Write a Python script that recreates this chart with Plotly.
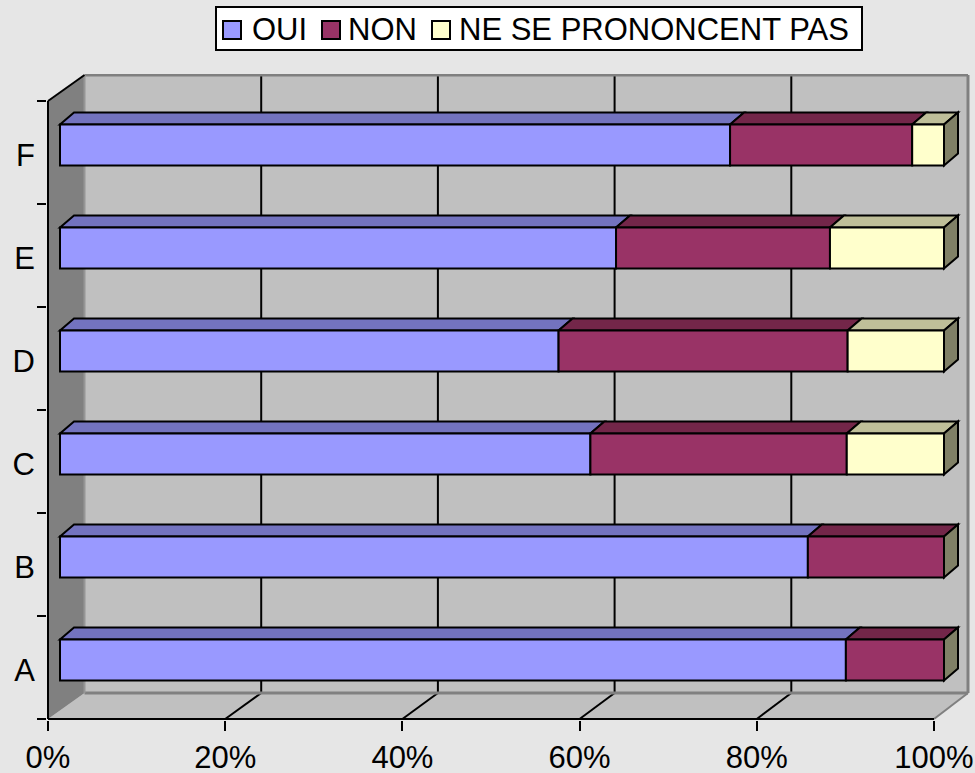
import plotly.graph_objects as go

# ---- data ----
categories = ["A", "B", "C", "D", "E", "F"]
oui = [88.9, 84.6, 60.0, 56.4, 62.9, 75.8]
non = [11.1, 15.4, 29.0, 32.7, 24.2, 20.6]
nspp = [0.0, 0.0, 11.0, 10.9, 12.9, 3.6]
series_names = ["OUI", "NON", "NE SE PRONONCENT PAS"]
x_ticks = [0, 20, 40, 60, 80, 100]
x_tick_labels = ["0%", "20%", "40%", "60%", "80%", "100%"]

# ---- styles and geometry ----
front_colors = ["#9999FF", "#993366", "#FFFFCC"]
top_colors = ["#7373BF", "#732649", "#BFBF99"]
side_color = "#808066"
page_color = "#E6E6E6"
wall_color = "#C0C0C0"
side_wall_color = "#808080"
edge_color = "#808080"
font_family = "Liberation Sans, Arial, sans-serif"

W, H = 975, 773
PX_X0, PX_X100 = 48.0, 934.0     # front plane, 0% and 100%
PX_YB, PX_YT = 719.0, 101.0      # front plane, bottom and top
PLOT_L, PLOT_R, PLOT_T, PLOT_B = 47, 970, 74, 720
PX_PER_PCT = (PX_X100 - PX_X0) / 100
PX_PER_CAT = (PX_YB - PX_YT) / len(categories)

# legend box layout, in page pixels
LEG_BOX = (216, 7, 862, 50)
LEG_SWATCH_X = [223, 322, 432]
LEG_TEXT_X = [250, 346, 457]
LEG_SWATCH_SIZE = 18
LEG_CY = 29
LEG_FONT = 31

def dxp(px):
    return px / PX_PER_PCT

def dyp(px):
    return px / PX_PER_CAT

def paper_x(px):
    return (px - PLOT_L) / (PLOT_R - PLOT_L)

def paper_y(py):
    return (PLOT_B - py) / (PLOT_B - PLOT_T)

x_range = [dxp(PLOT_L - PX_X0), dxp(PLOT_R - PX_X0)]
y_range = [-0.5 - dyp(PLOT_B - PX_YB), -0.5 + dyp(PX_YB - PLOT_T)]

WALL_DX0, WALL_DX100 = dxp(36.5), dxp(34.0)
WALL_DY = dyp(26.0)
Y_LOW, Y_HIGH = -0.5, len(categories) - 0.5

def back_x(v):
    return v + WALL_DX0 + (WALL_DX100 - WALL_DX0) * v / 100

BAR_X0 = dxp(12.0)
BAR_SCALE = 884.0 / 886.0
BAR_SHIFT_Y = dyp(7.5)
BAR_W = dyp(41.0)
BAR_DX, BAR_DY = dxp(14.0), dyp(12.0)
LABEL_SHIFT_Y = dyp(3.0)

def poly(points):
    return "M" + " L".join(f"{a:.4f},{b:.4f}" for a, b in points) + " Z"

shapes = []

def add_poly(points, fill, line=None, width=0):
    shapes.append(dict(type="path", path=poly(points), xref="x", yref="y", layer="below",
                       fillcolor=fill, line=dict(color=line or fill, width=width)))

def add_line(p0, p1, color="#000000", width=2):
    shapes.append(dict(type="line", xref="x", yref="y", layer="below",
                       x0=p0[0], y0=p0[1], x1=p1[0], y1=p1[1],
                       line=dict(color=color, width=width)))

# walls
back_b, back_t = Y_LOW + WALL_DY, Y_HIGH + WALL_DY
add_poly([(back_x(0), back_b), (back_x(100), back_b), (back_x(100), back_t), (back_x(0), back_t)], wall_color)
add_poly([(0, Y_LOW), (100, Y_LOW), (back_x(100), back_b), (back_x(0), back_b)], wall_color)
add_poly([(0, Y_LOW), (back_x(0), back_b), (back_x(0), back_t), (0, Y_HIGH)], side_wall_color)

# grid on back wall and floor
for t in x_ticks[1:-1]:
    add_line((back_x(t), back_b), (back_x(t), back_t))
    add_line((t, Y_LOW), (back_x(t), back_b))

# wall edges
add_line((back_x(0), back_t), (back_x(100), back_t), edge_color, 3)
add_line((back_x(100), back_t), (back_x(100), back_b), edge_color, 3)
add_line((back_x(0), back_b), (back_x(100), back_b), edge_color, 3)
add_line((100, Y_LOW), (back_x(100), back_b), edge_color, 2)
add_line((back_x(0), back_b), (back_x(0), back_t), "#969696", 2)

# front axis lines
add_line((0, Y_LOW), (100, Y_LOW))
add_line((0, Y_LOW), (0, Y_HIGH))
add_line((0, Y_HIGH), (back_x(0), back_t))

# bars
series = [oui, non, nspp]
y_pos = [i + BAR_SHIFT_Y for i in range(len(categories))]
traces = []
cum = [BAR_X0] * len(categories)
for s, vals in enumerate(series):
    widths = [v * BAR_SCALE for v in vals]
    traces.append(go.Bar(
        name=series_names[s], orientation="h", y=y_pos, x=widths, base=list(cum), width=BAR_W,
        marker=dict(color=front_colors[s], line=dict(color="#000000", width=2)),
        hoverinfo="skip", showlegend=False,
    ))
    for i, w in enumerate(widths):
        if w > 0:
            x0, x1 = cum[i], cum[i] + w
            yt = y_pos[i] + BAR_W / 2
            add_poly([(x0, yt), (x1, yt), (x1 + BAR_DX, yt + BAR_DY), (x0 + BAR_DX, yt + BAR_DY)],
                     top_colors[s], "#000000", 2)
        cum[i] += w

for i, end in enumerate(cum):
    yt, yb = y_pos[i] + BAR_W / 2, y_pos[i] - BAR_W / 2
    add_poly([(end, yb), (end + BAR_DX, yb + BAR_DY), (end + BAR_DX, yt + BAR_DY), (end, yt)],
             side_color, "#000000", 2)

# legend: box, swatches and labels
annotations = []
lx0, ly0, lx1, ly1 = LEG_BOX
shapes.append(dict(type="rect", xref="paper", yref="paper", layer="above",
                   x0=paper_x(lx0), x1=paper_x(lx1), y0=paper_y(ly1), y1=paper_y(ly0),
                   fillcolor="#FFFFFF", line=dict(color="#000000", width=2)))
for s, name in enumerate(series_names):
    sx = LEG_SWATCH_X[s]
    half = LEG_SWATCH_SIZE / 2
    shapes.append(dict(type="rect", xref="paper", yref="paper", layer="above",
                       x0=paper_x(sx), x1=paper_x(sx + LEG_SWATCH_SIZE),
                       y0=paper_y(LEG_CY + 1 + half), y1=paper_y(LEG_CY + 1 - half),
                       fillcolor=front_colors[s], line=dict(color="#000000", width=2)))
    annotations.append(dict(text=name, xref="paper", yref="paper", showarrow=False,
                            x=paper_x(LEG_TEXT_X[s]), y=paper_y(LEG_CY), xanchor="left", yanchor="middle",
                            font=dict(size=LEG_FONT, family=font_family, color="#000000")))

fig = go.Figure(traces)
fig.update_layout(
    width=W, height=H, autosize=False,
    margin=dict(l=PLOT_L, r=W - PLOT_R, t=PLOT_T, b=H - PLOT_B, pad=0, autoexpand=False),
    paper_bgcolor=page_color, plot_bgcolor="rgba(0,0,0,0)",
    barmode="overlay", shapes=shapes, annotations=annotations,
    font=dict(family=font_family, color="#000000", size=31),
    showlegend=False,
    xaxis=dict(
        range=x_range, tickmode="array", tickvals=x_ticks, ticktext=x_tick_labels,
        ticks="outside", ticklen=10, tickwidth=2, tickcolor="#000000",
        showgrid=False, zeroline=False, showline=False,
        tickfont=dict(size=31, family=font_family), ticklabelstandoff=0,
    ),
    yaxis=dict(
        range=y_range, tickmode="array", tickvals=[i - LABEL_SHIFT_Y for i in range(len(categories))],
        ticktext=categories,
        ticks="", showgrid=False, zeroline=False, showline=False,
        tickfont=dict(size=31, family=font_family), ticklabelstandoff=11,
        minor=dict(tickmode="array", tickvals=[i - 0.5 for i in range(len(categories) + 1)],
                   ticks="outside", ticklen=9, tickwidth=2, tickcolor="#000000", showgrid=False),
    ),
)
fig.write_html("out.html", config=dict(displayModeBar=False),
               post_script="document.body.style.margin='0';document.body.style.background='" + page_color + "';")
